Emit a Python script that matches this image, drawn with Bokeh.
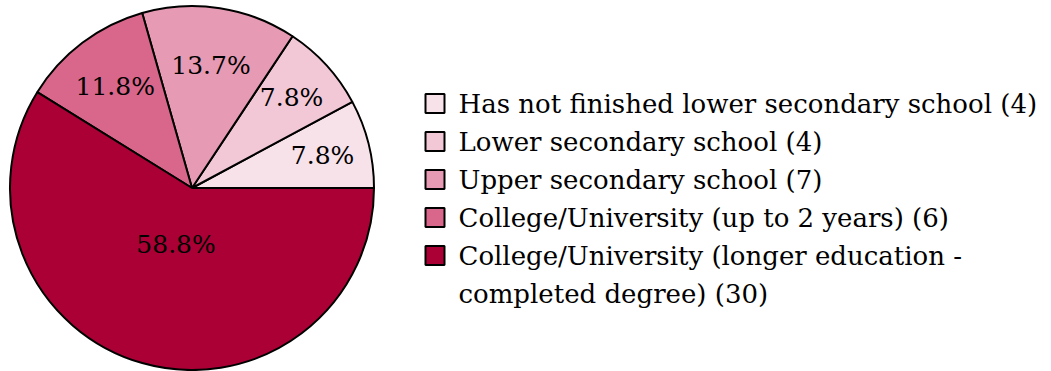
import math
from bokeh.plotting import figure
from bokeh.models import Range1d, ColumnDataSource
from bokeh.core.properties import value
from bokeh.embed import file_html
from bokeh.resources import INLINE

categories = [
    "Has not finished lower secondary school (4)",
    "Lower secondary school (4)",
    "Upper secondary school (7)",
    "College/University (up to 2 years) (6)",
    "College/University (longer education -\ncompleted degree) (30)",
]
counts = [4, 4, 7, 6, 30]
colors = ["#f8e2ea", "#f2c8d6", "#e69ab3", "#d8678b", "#aa0036"]

FONT = value("'DejaVu Serif', serif")

W, H = 1051, 371
p = figure(width=W, height=H, output_backend="svg", toolbar_location=None,
           x_range=Range1d(0, W), y_range=Range1d(0, H), min_border=0)
p.axis.visible = False
p.grid.visible = False
p.outline_line_color = None
p.background_fill_color = "white"

cx, cy, r = 191.5, H - 187.5, 182
total = sum(counts)
starts, ends, pcts = [], [], []
acc = 0.0
for c in counts:
    starts.append(2 * math.pi * acc / total)
    acc += c
    ends.append(2 * math.pi * acc / total)
    pcts.append(f"{100 * c / total:.1f}%")

src = ColumnDataSource(dict(start=starts, end=ends, color=colors))
p.wedge(x=cx, y=cy, radius=r, start_angle="start", end_angle="end", direction="anticlock",
        fill_color="color", line_color="black", line_width=2, source=src)

frac = [0.74, 0.74, 0.68, 0.70, 0.32]
lx, ly = [], []
for s, e, f in zip(starts, ends, frac):
    m = (s + e) / 2
    lx.append(cx + f * r * math.cos(m))
    ly.append(cy + f * r * math.sin(m))
p.text(x=lx, y=ly, text=pcts, text_align="center", text_baseline="middle",
       text_font=FONT, text_font_size="25px", text_color="black")

# legend
row0, step = H - 103, 38
sq = 19
ys = [row0 - i * step for i in range(len(categories))]
p.rect(x=[434.5] * len(ys), y=ys, width=sq, height=sq, fill_color=colors,
       line_color="black", line_width=2)
tx, ty, tt = [], [], []
for i, cat in enumerate(categories):
    for j, line in enumerate(cat.split("\n")):
        tx.append(458)
        ty.append(ys[i] - j * step)
        tt.append(line)
p.text(x=tx, y=ty, text=tt, text_align="left", text_baseline="middle",
       text_font=FONT, text_font_size="26px", text_color="black")

open("out.html", "w").write(file_html(p, INLINE))
